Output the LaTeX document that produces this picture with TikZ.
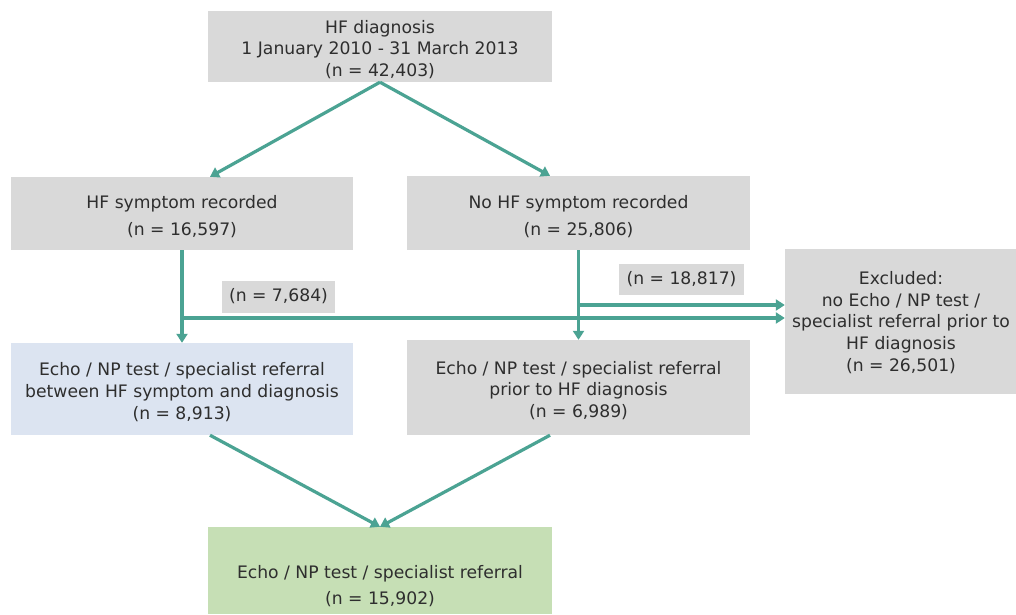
\documentclass[tikz,border=0pt]{standalone}
\usepackage{fontspec}
\setmainfont{DejaVu Sans}
\usetikzlibrary{arrows.meta,calc}
\definecolor{boxgrey}{HTML}{D9D9D9}
\definecolor{boxblue}{HTML}{DCE4F1}
\definecolor{boxgreen}{HTML}{C6DFB5}
\definecolor{teal}{HTML}{4BA393}
\definecolor{txt}{HTML}{2E2E2E}
\begin{document}
\begin{tikzpicture}[x=1pt,y=-1pt,
  every node/.style={font=\fontsize{17.2}{21.7}\selectfont, text=txt, align=center, inner sep=0pt},
  gbox/.style={fill=boxgrey, draw=none},
  bbox/.style={fill=boxblue, draw=none},
  grbox/.style={fill=boxgreen, draw=none},
  lbl/.style={fill=boxgrey, draw=none},
  arr/.style={draw=teal, line width=3.2pt, -{Triangle[length=9pt,width=11pt]}}]
\useasboundingbox (0,0) rectangle (1016,614);
\fill[white] (0,0) rectangle (1016,614);
% boxes
\node[gbox, minimum width=344pt, minimum height=71pt] (top) at (380,46.5) {};
\node (toptxt) at (380,49.5) {HF diagnosis\\1 January 2010 - 31 March 2013\\(n = 42,403)};
\node[gbox, minimum width=342pt, minimum height=73pt] (hfs) at (182,213.5) {};
\node (hfstxt) at (182,216.5) {HF symptom recorded\\[6pt](n = 16,597)};
\node[gbox, minimum width=343pt, minimum height=74pt] (nohfs) at (578.5,213) {};
\node (nohfstxt) at (578.5,216.5) {No HF symptom recorded\\[6pt](n = 25,806)};
\node[bbox, minimum width=342pt, minimum height=92pt] (blue) at (182,389) {};
\node (bluetxt) at (182,392) {Echo / NP test / specialist referral\\between HF symptom and diagnosis\\(n = 8,913)};
\node[gbox, minimum width=343pt, minimum height=95pt] (mid) at (578.5,387.5) {};
\node (midtxt) at (578.5,390.5) {Echo / NP test / specialist referral\\prior to HF diagnosis\\(n = 6,989)};
\node[gbox, minimum width=232pt, minimum height=145pt] (excl) at (901,321.5) {};
\node (excltxt) at (901,322.5) {Excluded:\\no Echo / NP test /\\specialist referral prior to\\HF diagnosis\\(n = 26,501)};
\node[grbox, minimum width=344pt, minimum height=87pt] (fin) at (380,570.5) {};
\node (fintxt) at (380,586) {Echo / NP test / specialist referral\\[5pt](n = 15,902)};
% labels
\node[lbl, minimum width=113pt, minimum height=32pt] (l1) at (278.5,296.5) {(n = 7,684)};
\node[lbl, minimum width=125pt, minimum height=31pt] (l2) at (681.5,279.5) {(n = 18,817)};
% connectors
\coordinate (t1) at ($(hfs.north)+(28,0)$);
\coordinate (t2) at ($(nohfs.north)+(-28.5,0)$);
\draw[arr] (top.south) -- (t1);
\draw[arr] (top.south) -- (t2);
\draw[arr] (hfs.south) -- (blue.north);
\draw[arr] (nohfs.south) -- (mid.north);
\coordinate (j1) at (hfs.south |- 0,318);
\coordinate (j2) at (nohfs.south |- 0,305);
\draw[arr] (j1) -- (j1 -| excl.west);
\draw[arr] (j2) -- (j2 -| excl.west);
\coordinate (s1) at ($(blue.south)+(28,0)$);
\coordinate (s2) at ($(mid.south)+(-28.5,0)$);
\draw[arr] (s1) -- (fin.north);
\draw[arr] (s2) -- (fin.north);
\end{tikzpicture}
\end{document}
